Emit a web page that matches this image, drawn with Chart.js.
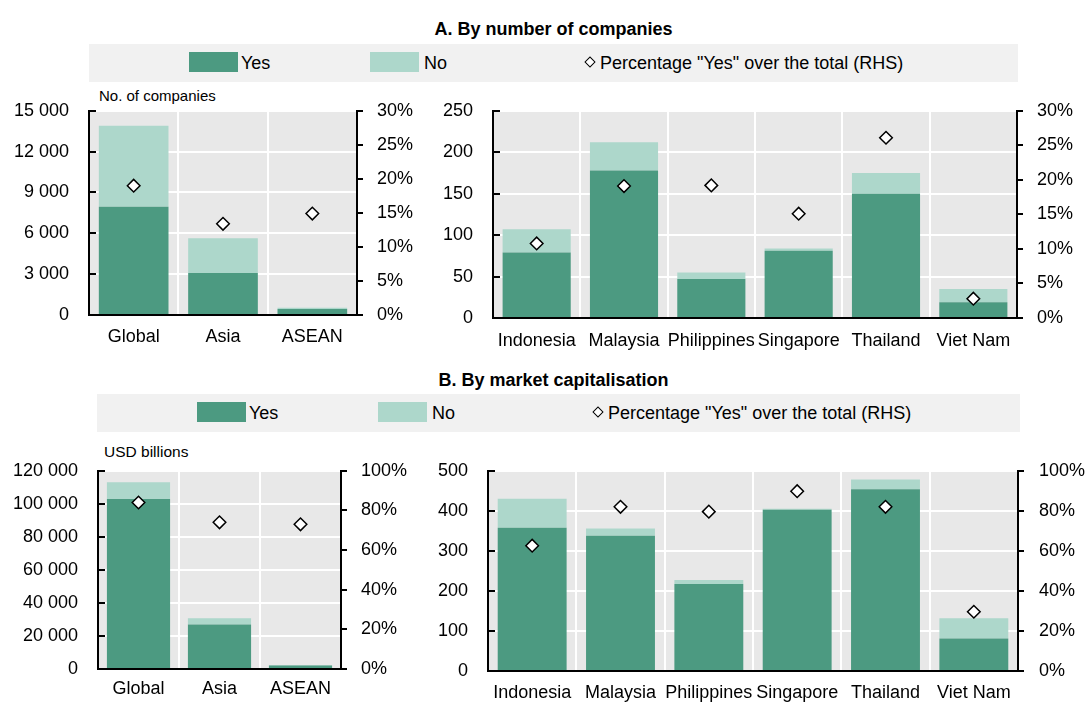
<!DOCTYPE html>
<html><head><meta charset="utf-8">
<script src="https://cdn.jsdelivr.net/npm/chart.js@4/dist/chart.umd.min.js"></script>
<style>
html,body{margin:0;padding:0;background:#fff;}
body{width:1087px;height:702px;position:relative;overflow:hidden;font-family:"Liberation Sans",Arial,sans-serif;color:#000;}
.t{position:absolute;white-space:nowrap;line-height:1;}
.title{font-weight:bold;font-size:18px;width:1087px;left:0;text-align:center;}
.band{position:absolute;background:#f1f1f1;}
.sw{position:absolute;}
.lt{font-size:18px;}
.dia{position:absolute;width:6px;height:6px;border:1px solid #000;background:#fff;transform:rotate(45deg);box-sizing:content-box;}
canvas{position:absolute;}
</style>
</head><body>
<div class="t title" style="top:20px;left:10px;">A. By number of companies</div>
<div class="band" style="left:89px;top:44px;width:929px;height:38px;"></div>
<div class="sw" style="left:189px;top:52px;width:49px;height:20px;background:#4c9a81;"></div>
<div class="t lt" style="left:241px;top:54px;">Yes</div>
<div class="sw" style="left:370px;top:52px;width:49px;height:20px;background:#add7cb;"></div>
<div class="t lt" style="left:424px;top:54px;">No</div>
<div class="dia" style="left:586px;top:58px;"></div>
<div class="t lt" style="left:600px;top:54px;">Percentage "Yes" over the total (RHS)</div>
<div class="t" style="left:99px;top:88px;font-size:15px;">No. of companies</div>

<div class="t title" style="top:371px;left:10px;">B. By market capitalisation</div>
<div class="band" style="left:97px;top:394px;width:923px;height:38px;"></div>
<div class="sw" style="left:197px;top:402px;width:49px;height:20px;background:#4c9a81;"></div>
<div class="t lt" style="left:249px;top:404px;">Yes</div>
<div class="sw" style="left:378px;top:402px;width:49px;height:20px;background:#add7cb;"></div>
<div class="t lt" style="left:432px;top:404px;">No</div>
<div class="dia" style="left:594px;top:408px;"></div>
<div class="t lt" style="left:608px;top:404px;">Percentage "Yes" over the total (RHS)</div>
<div class="t" style="left:104px;top:444px;font-size:15.5px;">USD billions</div>

<canvas id="aL" width="420" height="280" style="left:0;top:80px;"></canvas>
<canvas id="aR" width="667" height="280" style="left:420px;top:80px;"></canvas>
<canvas id="bL" width="420" height="262" style="left:0;top:440px;"></canvas>
<canvas id="bR" width="667" height="262" style="left:420px;top:440px;"></canvas>

<script>
const regions = ['Global', 'Asia', 'ASEAN'];
const countries = ['Indonesia', 'Malaysia', 'Philippines', 'Singapore', 'Thailand', 'Viet Nam'];

const aRegYes = [7950, 3080, 440];
const aRegNo = [5950, 2550, 100];
const aRegPct = [19.0, 13.4, 14.9];

const aCtyYes = [79, 178, 47, 81, 150, 19];
const aCtyNo = [28, 34, 8, 3, 25, 16];
const aCtyPct = [10.8, 19.1, 19.2, 15.1, 26.1, 2.8];

const bRegYes = [103000, 27000, 2100];
const bRegNo = [10000, 3700, 300];
const bRegPct = [84, 74, 73];

const bCtyYes = [358, 338, 217, 403, 454, 81];
const bCtyNo = [72, 18, 10, 2, 24, 51];
const bCtyPct = [62.6, 82, 79.6, 89.8, 82, 29.6];

const aRegTicks = ['0', '3 000', '6 000', '9 000', '12 000', '15 000'];
const aCtyTicks = ['0', '50', '100', '150', '200', '250'];
const aPctTicks = ['0%', '5%', '10%', '15%', '20%', '25%', '30%'];
const bRegTicks = ['0', '20 000', '40 000', '60 000', '80 000', '100 000', '120 000'];
const bCtyTicks = ['0', '100', '200', '300', '400', '500'];
const bPctTicks = ['0%', '20%', '40%', '60%', '80%', '100%'];

const FONT = '"Liberation Sans", Arial, sans-serif';
const YES_C = '#4c9a81', NO_C = '#add7cb';

const panelPlugin = {
  id: 'panel',
  beforeDraw(chart) {
    const { ctx, chartArea: a } = chart;
    ctx.save();
    ctx.fillStyle = '#e8e8e8';
    ctx.fillRect(a.left, a.top, a.right - a.left, a.bottom - a.top);
    ctx.restore();
  },
  afterDatasetsDraw(chart) {
    const { ctx, chartArea: a } = chart;
    const s = chart.scales.y;
    ctx.save();
    ctx.strokeStyle = '#000';
    ctx.lineWidth = 2;
    s.ticks.forEach(t => {
      const y = Math.round(s.getPixelForValue(t.value));
      ctx.beginPath();
      ctx.moveTo(a.left, y);
      ctx.lineTo(a.left + 7, y);
      ctx.stroke();
    });
    ctx.restore();
  }
};

function makeChart(id, p) {
  return new Chart(document.getElementById(id), {
    type: 'bar',
    data: {
      labels: p.labels,
      datasets: [
        { type: 'line', label: 'Percentage', data: p.pct, yAxisID: 'y1', showLine: false,
          pointStyle: 'rectRot', pointRadius: 6.3, pointBackgroundColor: '#fff',
          pointBorderColor: '#000', pointBorderWidth: 1.5, order: 0 },
        { label: 'Yes', data: p.yes, backgroundColor: YES_C, yAxisID: 'y', order: 1,
          barPercentage: 0.78, categoryPercentage: 1 },
        { label: 'No', data: p.no, backgroundColor: NO_C, yAxisID: 'y', order: 2,
          barPercentage: 0.78, categoryPercentage: 1 }
      ]
    },
    options: {
      responsive: false, animation: false, devicePixelRatio: 1,
      layout: { padding: { top: p.top, left: 0, right: 0, bottom: 0 } },
      plugins: { legend: { display: false }, tooltip: { enabled: false } },
      scales: {
        x: {
          stacked: true,
          grid: { color: '#fff', lineWidth: 2, drawTicks: false, offset: true },
          border: { color: '#000', width: 2 },
          ticks: { color: '#000', font: { family: FONT, size: 18 }, padding: p.xPad,
                   autoSkip: false, maxRotation: 0, minRotation: 0 },
          afterFit(s) { s.height = p.xH; }
        },
        y: {
          stacked: true, position: 'left', min: 0, max: p.yMax,
          grid: { color: '#fff', lineWidth: 2, drawTicks: false },
          border: { color: '#000', width: 2 },
          ticks: { stepSize: p.yStep, callback: (v, i) => p.yTicks[i], color: '#000',
                   font: { family: FONT, size: 18 }, padding: p.lPad },
          afterFit(s) { s.width = p.lW; }
        },
        y1: {
          position: 'right', min: 0, max: p.pMax,
          grid: { drawOnChartArea: false, color: '#000', lineWidth: 2, tickLength: 6 },
          border: { color: '#000', width: 2 },
          ticks: { stepSize: p.pStep, callback: (v, i) => p.pTicks[i], color: '#000',
                   font: { family: FONT, size: 18 }, padding: p.rPad },
          afterFit(s) { s.width = p.rW; }
        }
      }
    },
    plugins: [panelPlugin]
  });
}

makeChart('aL', { labels: regions, yes: aRegYes, no: aRegNo, pct: aRegPct,
  yMax: 15000, yStep: 3000, yTicks: aRegTicks, pMax: 30, pStep: 5, pTicks: aPctTicks,
  top: 29, lW: 89, rW: 63, xH: 45, xPad: 11, lPad: 20, rPad: 14 });
makeChart('aR', { labels: countries, yes: aCtyYes, no: aCtyNo, pct: aCtyPct,
  yMax: 250, yStep: 50, yTicks: aCtyTicks, pMax: 30, pStep: 5, pTicks: aPctTicks,
  top: 28, lW: 73, rW: 70, xH: 42, xPad: 12, lPad: 20, rPad: 14 });
makeChart('bL', { labels: regions, yes: bRegYes, no: bRegNo, pct: bRegPct,
  yMax: 120000, yStep: 20000, yTicks: bRegTicks, pMax: 100, pStep: 20, pTicks: bPctTicks,
  top: 22, lW: 98, rW: 79, xH: 33, xPad: 9, lPad: 20, rPad: 14 });
makeChart('bR', { labels: countries, yes: bCtyYes, no: bCtyNo, pct: bCtyPct,
  yMax: 500, yStep: 100, yTicks: bCtyTicks, pMax: 100, pStep: 20, pTicks: bPctTicks,
  top: 22, lW: 68, rW: 69, xH: 31, xPad: 11, lPad: 20, rPad: 15 });
</script>
</body></html>
